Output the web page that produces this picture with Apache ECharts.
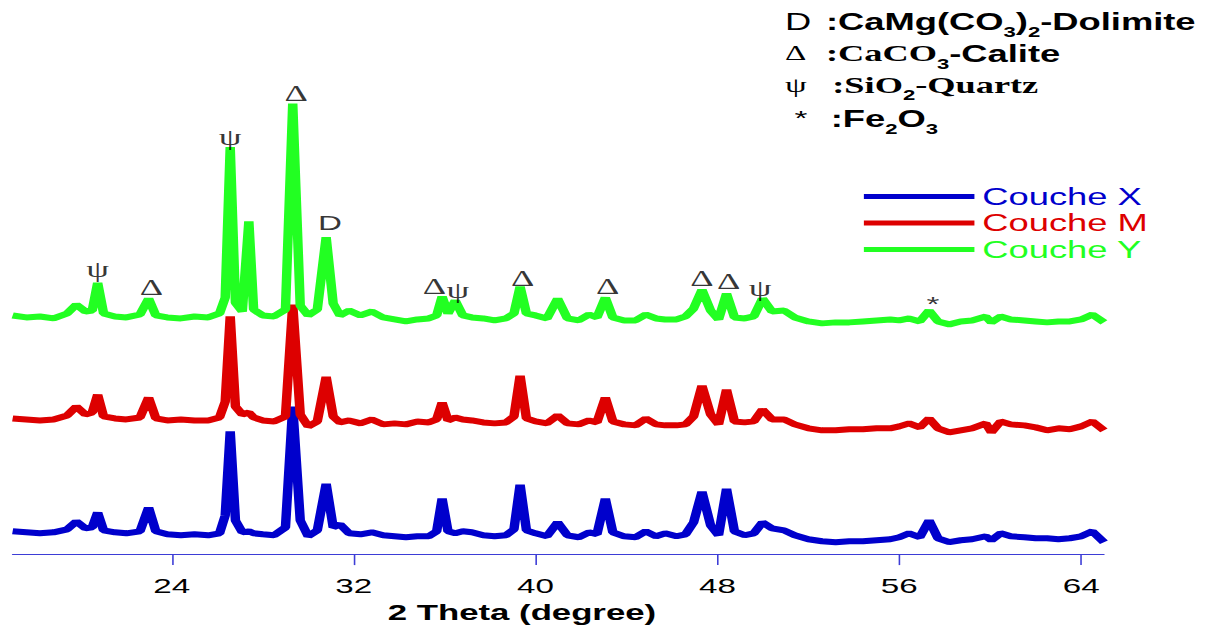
<!DOCTYPE html>
<html>
<head>
<meta charset="utf-8">
<title>XRD - Couches X, M, Y</title>
<script src="https://cdn.jsdelivr.net/npm/echarts@6/dist/echarts.min.js"></script>
<style>
html, body { margin: 0; padding: 0; background: #fff; overflow: hidden; }
/* the original figure is stretched horizontally, so the chart is drawn narrow and widened */
#main { width: 763px; height: 628px; transform: scaleX(1.5793); transform-origin: 0 0; }
</style>
</head>
<body>
<div id="main"></div>
<script type="text/javascript">
// 2 theta positions (degree)
var theta = [
  17.0, 17.6, 18.2, 18.8, 19.4, 19.8, 20.2, 20.5, 20.74, 21.0,
  21.5, 22.0, 22.6, 22.98, 23.3, 23.8, 24.4, 25.0, 25.6, 26.1,
  26.35, 26.57, 26.8, 27.1, 27.39, 27.6, 28.0, 28.5, 29.0, 29.32,
  29.65, 30.0, 30.4, 30.79, 31.1, 31.4, 31.8, 32.3, 32.8, 33.3,
  33.8, 34.3, 34.8, 35.3, 35.65, 35.89, 36.15, 36.47, 36.8, 37.2,
  37.7, 38.2, 38.7, 39.05, 39.32, 39.6, 40.0, 40.5, 40.97, 41.4,
  41.9, 42.35, 42.7, 43.07, 43.4, 43.9, 44.4, 44.85, 45.3, 45.7,
  46.2, 46.6, 46.95, 47.32, 47.7, 48.05, 48.4, 48.75, 49.2, 49.6,
  49.98, 50.4, 50.93, 51.4, 52.0, 52.6, 53.2, 53.8, 54.4, 55.0,
  55.6, 56.0, 56.43, 56.9, 57.31, 57.7, 58.2, 58.7, 59.2, 59.8,
  60.05, 60.46, 60.9, 61.5, 62.0, 62.5, 63.0, 63.5, 64.0, 64.49,
  65.0
];

// intensities (a.u., traces already shifted apart)
var coucheX = [
  23, 22, 21, 22, 25, 33, 26, 27, 42, 24,
  22, 21, 23, 47, 23, 20, 19, 20, 19, 21,
  39, 124, 34, 22, 23, 21, 20, 19, 27, 149,
  34, 18, 24, 71, 27, 30, 21, 20, 22, 19,
  18, 17, 18, 18, 23, 56, 23, 21, 23, 22,
  19, 18, 19, 25, 70, 24, 21, 18, 32, 19,
  17, 22, 20, 56, 22, 18, 17, 23, 18, 21,
  18, 20, 32, 63, 29, 19, 66, 23, 19, 21,
  32, 26, 24, 19, 15, 13, 12, 13, 13, 14,
  15, 17, 21, 17, 34, 16, 12, 14, 15, 18,
  14, 21, 18, 17, 16, 16, 15, 16, 18, 23,
  12
];
var coucheM = [
  137, 136, 135, 136, 140, 149, 141, 143, 161, 139,
  137, 136, 138, 158, 137, 135, 136, 135, 135, 138,
  154, 240, 149, 141, 143, 138, 135, 134, 139, 252,
  141, 129, 134, 179, 139, 133, 135, 132, 136, 131,
  132, 131, 134, 133, 136, 153, 135, 138, 136, 135,
  133, 132, 133, 139, 180, 137, 134, 132, 140, 132,
  131, 135, 133, 158, 134, 131, 130, 137, 131, 130,
  130, 131, 139, 170, 141, 131, 166, 134, 133, 134,
  146, 136, 136, 131, 127, 125, 125, 126, 126, 127,
  127, 129, 132, 128, 137, 127, 123, 125, 127, 132,
  123, 134, 131, 130, 128, 125, 127, 126, 129, 134,
  125
];
var coucheY = [
  241, 239, 240, 238, 243, 252, 245, 246, 274, 243,
  240, 239, 242, 258, 241, 239, 238, 240, 239, 243,
  259, 411, 254, 245, 336, 247, 241, 240, 247, 455,
  251, 241, 247, 320, 253, 241, 246, 241, 245, 239,
  237, 235, 237, 238, 241, 260, 243, 256, 241, 239,
  238, 236, 238, 243, 270, 243, 241, 238, 258, 238,
  236, 242, 239, 259, 239, 236, 236, 242, 238, 237,
  237, 240, 248, 267, 246, 237, 263, 239, 238, 240,
  258, 245, 246, 239, 235, 233, 234, 234, 235, 236,
  237, 236, 238, 235, 246, 235, 232, 235, 236, 240,
  234, 240, 237, 236, 235, 234, 235, 235, 237, 242,
  234
];

var seriesNames = ['Couche X', 'Couche M', 'Couche Y'];
var seriesColors = ['#0000cc', '#dd0000', '#22ff22'];
var tickValues = [24, 32, 40, 48, 56, 64];

// phase marks over the peaks
var markTheta = [20.74, 23.1, 26.57, 29.47, 30.96, 35.55, 36.58, 39.43, 43.17, 47.32, 48.49, 49.88, 57.48];
var markLevel = [287, 269, 421, 465, 335, 270, 266, 278, 270, 278, 275, 268, 253];
var markText = ['ψ', 'Δ', 'ψ', 'Δ', 'D', 'Δ', 'ψ', 'Δ', 'Δ', 'Δ', 'Δ', 'ψ', '*'];

var phaseKey = [
  '{sym|D}{b|:CaMg(CO}{s|3}{b|)}{s|2}{b|-Dolimite}',
  '{tri|Δ}{tb|:CaCO}{s|3}{b|-Calite}',
  '{psi|ψ}{tb|:SiO}{s|2}{tb|-Quartz}',
  '{ast|*}{b|:Fe}{s|2}{b|O}{s|3}'
];

function pairs(ys) {
  return theta.map(function (t, i) { return [t, ys[i]]; });
}

var traces = [coucheX, coucheM, coucheY];

var series = traces.map(function (ys, i) {
  return {
    name: seriesNames[i],
    type: 'line',
    data: pairs(ys),
    showSymbol: false,
    lineStyle: { color: seriesColors[i], width: 6 },
    itemStyle: { color: seriesColors[i] },
    animation: false,
    z: 2 + i
  };
});

series.push({
  type: 'scatter',
  symbolSize: 1,
  itemStyle: { color: 'rgba(0,0,0,0)' },
  silent: true,
  animation: false,
  z: 10,
  data: markTheta.map(function (t, i) {
    var sans = markText[i] === 'D' || markText[i] === '*';
    return {
      value: [t, markLevel[i]],
      label: {
        show: true,
        position: 'inside',
        formatter: markText[i],
        color: '#000',
        fontSize: sans ? 21 : 23,
        fontFamily: sans ? 'Liberation Sans' : 'Liberation Serif'
      }
    };
  })
});

var richKey = {
  sym: { fontFamily: 'Liberation Sans', fontSize: 23, width: 26, verticalAlign: 'top', color: '#000' },
  tri: { fontFamily: 'Liberation Serif', fontSize: 21, width: 26, verticalAlign: 'top', color: '#000' },
  psi: { fontFamily: 'Liberation Serif', fontSize: 22, width: 30, verticalAlign: 'top', color: '#000' },
  ast: { fontFamily: 'Liberation Sans', fontSize: 21, width: 23, verticalAlign: 'top', color: '#000' },
  b: { fontFamily: 'Liberation Sans', fontWeight: 'bold', fontSize: 23, verticalAlign: 'top', color: '#000' },
  tb: { fontFamily: 'Liberation Serif', fontWeight: 'bold', fontSize: 23, verticalAlign: 'top', color: '#000' },
  s: { fontFamily: 'Liberation Sans', fontWeight: 'bold', fontSize: 14, padding: [15, 0, 0, 0], verticalAlign: 'top', color: '#000' }
};

var keyTops = [10, 42, 73.5, 107.5];
var keyLefts = [497, 497, 497, 503];

var myChart = echarts.init(document.getElementById('main'), null, { renderer: 'svg' });

myChart.setOption({
  backgroundColor: '#fff',
  animation: false,
  grid: { left: 8, right: 64, top: 59, bottom: 69 },
  legend: {
    data: seriesNames.map(function (n, i) {
      return { name: n, textStyle: { color: seriesColors[i] } };
    }),
    orient: 'vertical',
    left: 542,
    top: 180,
    icon: 'rect',
    itemWidth: 70,
    itemHeight: 5,
    itemGap: 3.5,
    textStyle: { fontFamily: 'Liberation Sans', fontSize: 23 }
  },
  xAxis: {
    type: 'value',
    min: 17,
    max: 65,
    name: '2 Theta (degree)',
    nameLocation: 'middle',
    nameGap: 42,
    nameTextStyle: {
      fontFamily: 'Liberation Sans',
      fontWeight: 'bold',
      fontSize: 22,
      color: '#000',
      padding: [0, 46, 0, 0]
    },
    axisLine: { onZero: false, lineStyle: { color: '#3d3dd6', width: 1 } },
    axisTick: { show: true, length: 11, customValues: tickValues, lineStyle: { color: '#3d3dd6' } },
    axisLabel: {
      customValues: tickValues,
      margin: 21,
      color: '#000',
      fontFamily: 'Liberation Sans',
      fontSize: 21
    },
    splitLine: { show: false }
  },
  yAxis: {
    type: 'value',
    min: 0,
    max: 500,
    show: false
  },
  graphic: phaseKey.map(function (txt, i) {
    return {
      type: 'text',
      left: keyLefts[i],
      top: keyTops[i],
      style: { text: txt, rich: richKey, fill: '#000' }
    };
  }),
  series: series
});
</script>
</body>
</html>
